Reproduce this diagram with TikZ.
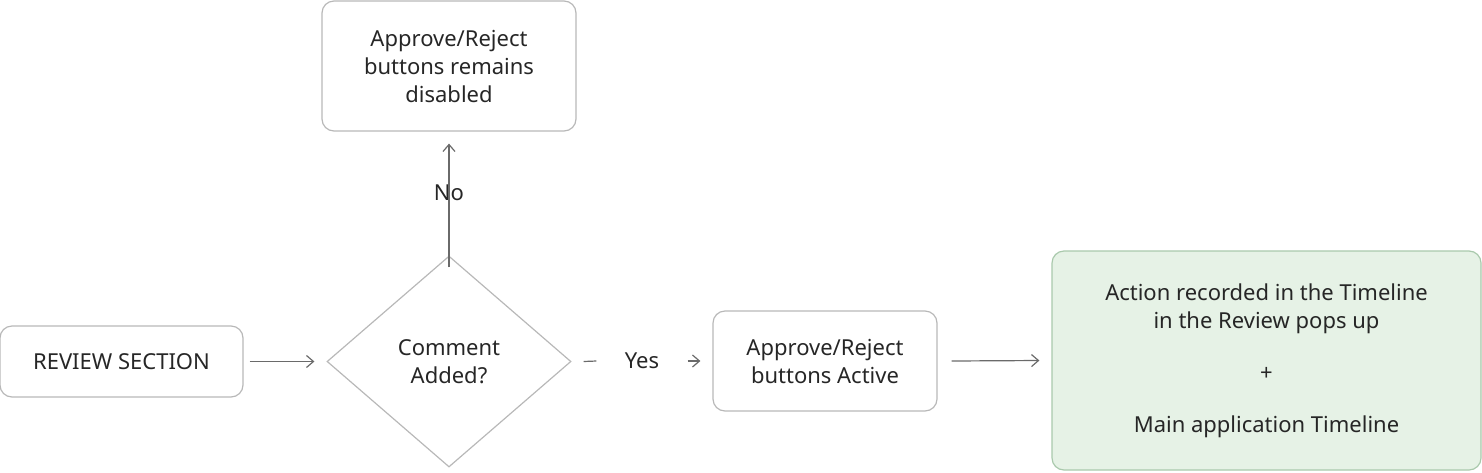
\documentclass[tikz,border=0pt]{standalone}
\usepackage{fontspec}
\setmainfont{Noto Sans}
\usetikzlibrary{shapes.geometric,arrows.meta}
\definecolor{bd}{HTML}{B8B8B8}
\definecolor{ln}{HTML}{6A6A6A}
\definecolor{gf}{HTML}{E6F2E6}
\definecolor{gb}{HTML}{A9C9AC}
\begin{document}
\begin{tikzpicture}[x=0.5pt,y=-0.5pt,
  box/.style={draw=bd,rounded corners=6pt,align=center,font=\fontsize{11}{14}\selectfont,text=black!85,line width=0.6pt},
  lab/.style={font=\fontsize{11}{14}\selectfont,text=black!85,inner sep=0pt},
  arr/.style={draw=ln,line width=0.6pt,-{Straight Barb[length=3.5pt,width=6pt]}},
  seg/.style={draw=ln,line width=0.6pt}]
\useasboundingbox (0,0) rectangle (1482,472);
\node[box,minimum width=121.5pt,minimum height=35.5pt] (rev) at (121.5,361.5) {REVIEW SECTION};
\node[diamond,draw=bd,line width=0.6pt,minimum width=122pt,minimum height=105.5pt,inner sep=0pt,align=center,font=\fontsize{11}{14}\selectfont,text=black!85] (dec) at (449,361.5) {Comment\\Added?};
\node[box,minimum width=127pt,minimum height=65pt] (top) at (449,66) {Approve/Reject\\buttons remains\\\textbf{disabled}};
\node[box,minimum width=112pt,minimum height=50pt] (act) at (825,361) {Approve/Reject\\buttons \textbf{Active}};
\node[box,draw=gb,fill=gf,minimum width=214.5pt,minimum height=109.5pt,font=\fontsize{11}{14}\selectfont\bfseries] (tl) at (1266.5,360.5) {Action recorded in the Timeline\\in the Review pops up\\[12pt]+\\[12pt]Main application Timeline};
\node[lab] (no) at (449,193) {No};
\node[lab] (yes) at (642,361) {Yes};
\draw[arr] (rev.east)++(6,0) -- ([xshift=-6]dec.west);
\draw[seg] ([yshift=-6]dec.north) -- ([yshift=14]no.south);
\draw[arr] ([yshift=-14]no.north) -- ([yshift=-6]top.south);
\draw[seg] ([xshift=6]dec.east) -- ([xshift=-14]yes.west);
\draw[arr] ([xshift=14]yes.east) -- ([xshift=-6]act.west);
\draw[arr] ([xshift=7]act.east) -- ([xshift=-6]tl.west);
\end{tikzpicture}
\end{document}
